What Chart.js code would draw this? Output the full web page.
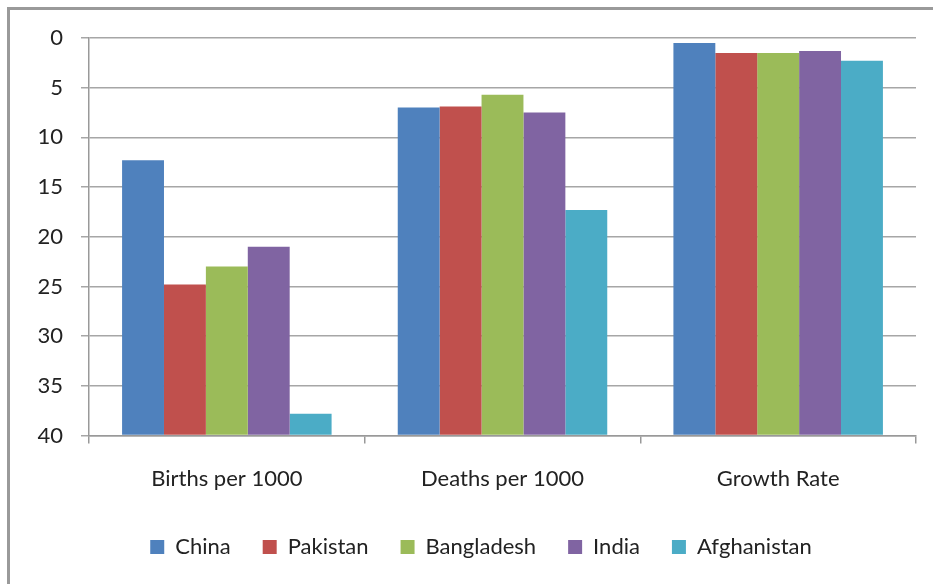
<!DOCTYPE html>
<html>
<head>
<meta charset="utf-8">
<script src="https://cdn.jsdelivr.net/npm/chart.js@4.4.0/dist/chart.umd.min.js"></script>
<style>
  html, body { margin: 0; padding: 0; background: #fff; }
  #wrap { position: relative; width: 933px; height: 584px; overflow: hidden; }
  #frame { position: absolute; left: 7px; top: 7px; width: 960px; height: 620px;
           border: 3px solid #9a9a9a; box-sizing: border-box; }
  canvas { position: absolute; left: 0; top: 0; }
</style>
</head>
<body>
<div id="wrap">
  <div id="frame"></div>
  <canvas id="rateChart" width="933" height="584"></canvas>
</div>
<script>
// Chart data
const categories = ['Births per 1000', 'Deaths per 1000', 'Growth Rate'];
const countries = ['China', 'Pakistan', 'Bangladesh', 'India', 'Afghanistan'];
const china = [12.3, 7.0, 0.5];
const pakistan = [24.8, 6.9, 1.5];
const bangladesh = [23.0, 5.7, 1.5];
const india = [21.0, 7.5, 1.3];
const afghanistan = [37.8, 17.3, 2.3];
const yTicks = [0, 5, 10, 15, 20, 25, 30, 35, 40];

const colors = ['#4F81BD', '#C0504D', '#9BBB59', '#8064A2', '#4BACC6'];
const series = [china, pakistan, bangladesh, india, afghanistan];

const font = "Lato, 'Open Sans', sans-serif";
const textColor = '#222';

// nudge the legend a little right, like the original
const legendShift = {
  id: 'legendShift',
  afterLayout(chart) {
    chart.legend.left += 23;
    chart.legend.right += 23;
  }
};

const ctx = document.getElementById('rateChart').getContext('2d');
new Chart(ctx, {
  type: 'bar',
  data: {
    labels: categories,
    datasets: series.map((values, i) => ({
      label: countries[i],
      data: values,
      base: 40, // bars grow up from the bottom of the reversed axis
      backgroundColor: colors[i],
      borderWidth: 0
    }))
  },
  options: {
    responsive: false,
    animation: false,
    layout: { padding: { top: 38, right: 17, bottom: 16, left: 0 } },
    datasets: { bar: { categoryPercentage: 0.76, barPercentage: 1.0 } },
    plugins: {
      legend: {
        position: 'bottom',
        labels: {
          boxWidth: 14,
          boxHeight: 14,
          color: textColor,
          padding: 32,
          font: { family: font, size: 22 }
        }
      },
      tooltip: { enabled: false }
    },
    scales: {
      x: {
        afterFit: (scale) => { scale.height -= 10; },
        grid: { display: true, drawOnChartArea: false, color: '#999', lineWidth: 1.5, tickLength: 8, offset: true },
        border: { color: '#999', width: 1.5 },
        ticks: { color: textColor, padding: 22, font: { family: font, size: 22 } }
      },
      y: {
        reverse: true,
        min: 0,
        max: 40,
        afterBuildTicks: (scale) => { scale.ticks = yTicks.map(v => ({ value: v })); },
        afterFit: (scale) => { scale.width = 89; },
        grid: { color: '#a6a6a6', lineWidth: 1.5, tickLength: 8 },
        border: { color: '#999', width: 1.5 },
        ticks: { color: textColor, padding: 18, font: { family: font, size: 22 } }
      }
    }
  },
  plugins: [legendShift]
});
</script>
</body>
</html>
